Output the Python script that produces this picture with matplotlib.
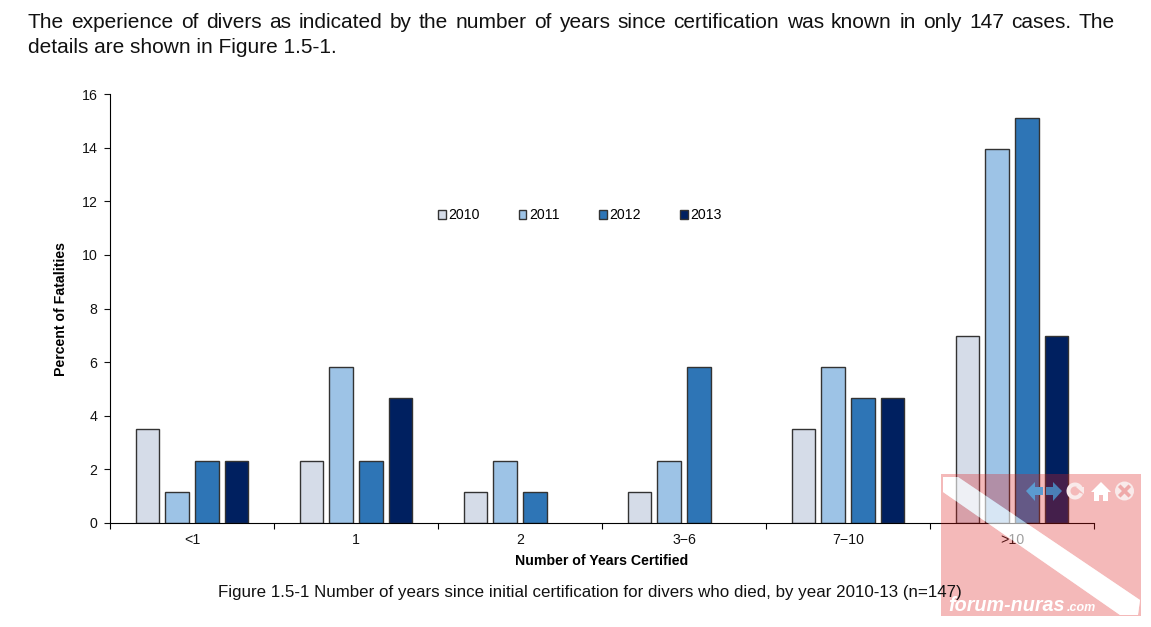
import matplotlib
matplotlib.use("Agg")
import matplotlib.pyplot as plt
import numpy as np
from matplotlib.patches import Circle, PathPatch, Polygon, Wedge
from matplotlib.path import Path
from matplotlib.ticker import FixedLocator, NullFormatter

plt.rcParams["font.family"] = ["Liberation Sans", "DejaVu Sans"]

# data
categories = ["<1", "1", "2", "3\u22126", "7\u221210", ">10"]
years = ["2010", "2011", "2012", "2013"]
pct_2010 = [3.49, 2.33, 1.16, 1.16, 3.49, 6.98]
pct_2011 = [1.16, 5.81, 2.33, 2.33, 5.81, 13.95]
pct_2012 = [2.33, 2.33, 1.16, 5.81, 4.65, 15.12]
pct_2013 = [2.33, 4.65, 0, 0, 4.65, 6.98]
yticks = [0, 2, 4, 6, 8, 10, 12, 14, 16]

COLOURS = ["#D5DCE8", "#9DC3E6", "#2E75B6", "#002060"]
PINK = (222 / 255, 29 / 255, 29 / 255, 0.31)

LINE_1 = ("The experience of divers as indicated by the number of years since "
          "certification was known in only 147 cases. The")
LINE_2 = "details are shown in Figure 1.5-1."
CAPTION = ("Figure 1.5-1 Number of years since initial certification for "
           "divers who died, by year 2010-13 (n=147)")

W, H = 1151, 627
fig = plt.figure(figsize=(W / 100, H / 100), dpi=100, facecolor="white")

# ─── bar chart ───────────────────────────────────────────────────────────────
ax = fig.add_axes([110 / W, 1 - 523 / H, 984 / W, 429 / H])
x = np.arange(len(categories))
step = 0.181
width = 0.146
series = [pct_2010, pct_2011, pct_2012, pct_2013]
for j, (vals, col) in enumerate(zip(series, COLOURS)):
    keep = [i for i, v in enumerate(vals) if v > 0]
    ax.bar(x[keep] + (j - 1.5) * step, [vals[i] for i in keep], width,
           color=col, edgecolor="#333333", linewidth=1.0, label=years[j])

ax.set_xlim(-0.5, len(categories) - 0.5)
ax.set_ylim(0, 16)
ax.set_yticks(yticks)
ax.tick_params(axis="y", labelsize=10.2, length=4, width=0.8, pad=5, colors="#111111")
ax.set_xticks(x)
ax.set_xticklabels(categories)
ax.tick_params(axis="x", which="major", length=0, labelsize=10.2, pad=7, colors="#111111")
ax.xaxis.set_minor_locator(FixedLocator(np.arange(len(categories) + 1) - 0.5))
ax.xaxis.set_minor_formatter(NullFormatter())
ax.tick_params(axis="x", which="minor", length=4, width=0.8)
ax.spines["top"].set_visible(False)
ax.spines["right"].set_visible(False)
ax.set_xlabel("Number of Years Certified", fontsize=10.2, fontweight="bold", labelpad=5.5)
ax.set_ylabel("Percent of Fatalities", fontsize=10.2, fontweight="bold", labelpad=10)
ax.legend(loc="center", bbox_to_anchor=(0.4775, 0.717), ncols=4,
          frameon=False, fontsize=10.2, handlelength=0.55, handleheight=0.55,
          handletextpad=0.2, columnspacing=2.75)

# ─── overlay in pixel coordinates: page text and watermark ───────────────────
page = fig.add_axes([0, 0, 1, 1], facecolor="none")
page.set_xlim(0, W)
page.set_ylim(H, 0)
page.axis("off")


def justified(line, x0, x1, y, size):
    words = line.split(" ")
    renderer = fig.canvas.get_renderer()
    items = [page.text(0, y, w, fontsize=size, va="baseline", color="#111111") for w in words]
    widths = [t.get_window_extent(renderer).width for t in items]
    gap = (x1 - x0 - sum(widths)) / (len(words) - 1)
    pos = x0
    for t, w in zip(items, widths):
        t.set_x(pos)
        pos += w + gap


justified(LINE_1, 28, 1115, 28, 15)
page.text(28, 53, LINE_2, fontsize=15, va="baseline", color="#111111")
page.text(590, 597, CAPTION, fontsize=12.2, ha="center", va="baseline", color="#111111")

# watermark
stripe = [(943, 477), (958, 477), (1140, 600), (1138, 615), (1120, 615), (943, 492)]
frame = [(941, 474), (1141, 474), (1141, 616), (941, 616), (941, 474)]
verts = frame + stripe[::-1] + [stripe[-1]]
codes = ([Path.MOVETO] + [Path.LINETO] * 3 + [Path.CLOSEPOLY]
         + [Path.MOVETO] + [Path.LINETO] * 5 + [Path.CLOSEPOLY])
page.add_patch(PathPatch(Path(verts, codes), facecolor=PINK, edgecolor="none"))
page.add_patch(Polygon(stripe, closed=True, facecolor=(1, 1, 1, 0.6), edgecolor="none"))

page.add_patch(Polygon([(1026, 491), (1035, 482), (1035, 487), (1043, 487), (1043, 495),
                        (1035, 495), (1035, 501)], closed=True, facecolor="#5B9BD0", edgecolor="none"))
page.add_patch(Polygon([(1062, 491), (1053, 482), (1053, 487), (1046, 487), (1046, 495),
                        (1053, 495), (1053, 501)], closed=True, facecolor="#4A7FB5", edgecolor="none"))
# y axis of this overlay runs downward, so wedge angles are mirrored
page.add_patch(Wedge((1075, 491), 8.5, 20, 330, width=4, facecolor="#F9EAEA", edgecolor="none"))
page.add_patch(Polygon([(1076, 487), (1084, 487), (1084, 494)], closed=True,
                       facecolor="#F9EAEA", edgecolor="none"))
page.add_patch(Polygon([(1091, 492), (1101, 482), (1111, 492), (1108, 492), (1108, 501),
                        (1103, 501), (1103, 495), (1099, 495), (1099, 501), (1094, 501),
                        (1094, 492)], closed=True, facecolor="white", edgecolor="none"))
page.add_patch(Circle((1124.5, 491), 9.5, facecolor="#F9EAEA", edgecolor="none"))
page.plot([1120.5, 1128.5], [487, 495], color="#EFA9A9", lw=2.6)
page.plot([1120.5, 1128.5], [495, 487], color="#EFA9A9", lw=2.6)
page.text(948, 611, "forum-nuras", fontsize=14.2, fontweight="bold", style="italic",
          color="white", va="baseline")
page.text(1067, 611, ".com", fontsize=9, fontweight="bold", style="italic",
          color="white", va="baseline")
page.set_xlim(0, W)
page.set_ylim(H, 0)

fig.savefig("out.png", dpi=100)
